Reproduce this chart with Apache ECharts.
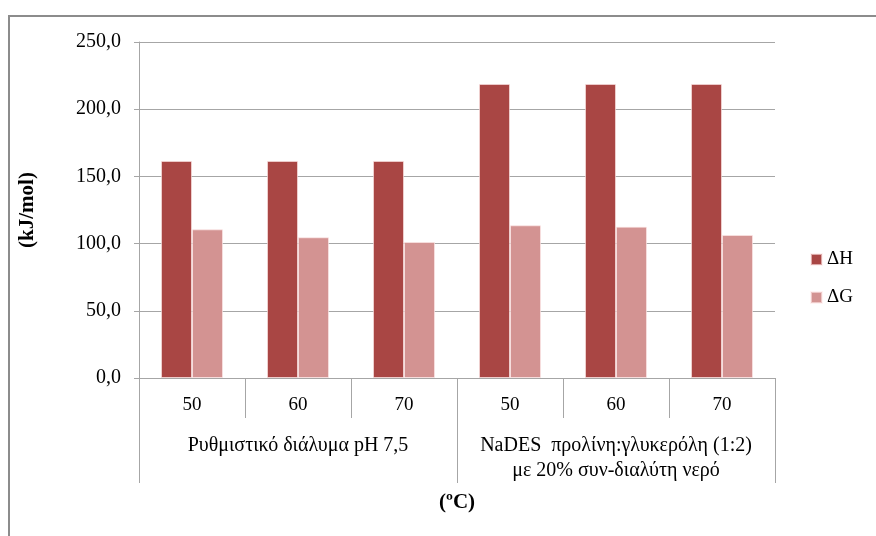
<!DOCTYPE html>
<html>
<head>
<meta charset="utf-8">
<script src="https://cdn.jsdelivr.net/npm/echarts@6/dist/echarts.min.js"></script>
<style>
  html, body { margin: 0; padding: 0; background: #fff; }
  #chart { width: 876px; height: 536px; }
</style>
</head>
<body>
<div id="chart"></div>
<script>
// Temperatures (inner category level) and solvent systems (outer level)
const temperatures = ['50', '60', '70', '50', '60', '70'];
const solventGroups = [
  'Ρυθμιστικό διάλυμα pH 7,5',
  'NaDES  προλίνη:γλυκερόλη (1:2)\nμε 20% συν-διαλύτη νερό'
];
const seriesNames = ['ΔH', 'ΔG'];
// Activation parameters, kJ/mol
const deltaH = [161.5, 161.5, 161.5, 218.8, 218.8, 218.8];
const deltaG = [110.6, 104.7, 101.2, 113.6, 112.6, 106.4];
const yTicks = { min: 0, max: 250, interval: 50 };

const serif = '"Liberation Serif", "Times New Roman", serif';
const gray = '#a6a6a6';

const chart = echarts.init(document.getElementById('chart'));
chart.setOption({
  animation: false,
  textStyle: { fontFamily: serif },
  grid: { left: 139, right: 101, top: 42, bottom: 158 },
  legend: {
    orient: 'vertical',
    left: 805,
    top: 245,
    itemWidth: 11,
    itemHeight: 11,
    itemGap: 19,
    icon: 'rect',
    textStyle: { fontFamily: serif, fontSize: 19, color: '#000' },
    data: seriesNames
  },
  xAxis: [
    {
      type: 'category',
      data: temperatures,
      position: 'bottom',
      axisLine: { lineStyle: { color: gray, width: 1 } },
      axisTick: { show: true, interval: 0, length: 40, lineStyle: { color: gray } },
      axisLabel: { interval: 0, margin: 16, fontFamily: serif, fontSize: 19, lineHeight: 22, color: '#000' }
    },
    {
      type: 'category',
      data: solventGroups,
      position: 'bottom',
      offset: 0,
      axisLine: { show: false },
      axisTick: { show: true, interval: 0, length: 105, lineStyle: { color: gray } },
      axisLabel: { interval: 0, margin: 55, fontFamily: serif, fontSize: 20, lineHeight: 25, color: '#000' },
      name: '(ºC)',
      nameLocation: 'middle',
      nameGap: 114,
      nameTextStyle: { fontFamily: serif, fontSize: 21, fontWeight: 'bold', color: '#000' }
    }
  ],
  yAxis: {
    type: 'value',
    min: yTicks.min,
    max: yTicks.max,
    interval: yTicks.interval,
    axisLine: { show: true, lineStyle: { color: gray } },
    axisTick: { show: true, length: 5, lineStyle: { color: gray } },
    splitLine: { lineStyle: { color: gray, width: 1 } },
    axisLabel: {
      margin: 18,
      fontFamily: serif,
      fontSize: 20,
      color: '#000',
      formatter: v => v.toFixed(1).replace('.', ',')
    },
    name: '(kJ/mol)',
    nameLocation: 'middle',
    nameRotate: 90,
    nameGap: 101,
    nameTextStyle: { fontFamily: serif, fontSize: 21, fontWeight: 'bold', color: '#000' }
  },
  series: [
    {
      name: seriesNames[0],
      type: 'bar',
      xAxisIndex: 0,
      data: deltaH,
      barWidth: 31,
      barGap: '0%',
      itemStyle: { color: '#a94644', borderColor: 'rgba(255,235,235,0.6)', borderWidth: 1 }
    },
    {
      name: seriesNames[1],
      type: 'bar',
      xAxisIndex: 0,
      data: deltaG,
      barWidth: 31,
      barGap: '0%',
      itemStyle: { color: '#d39392', borderColor: 'rgba(255,235,235,0.6)', borderWidth: 1 }
    }
  ],
  graphic: [
    {
      type: 'rect',
      shape: { x: 9, y: 16, width: 880, height: 540 },
      style: { fill: 'none', stroke: '#8c8c8c', lineWidth: 2 },
      silent: true
    }
  ]
});
</script>
</body>
</html>
